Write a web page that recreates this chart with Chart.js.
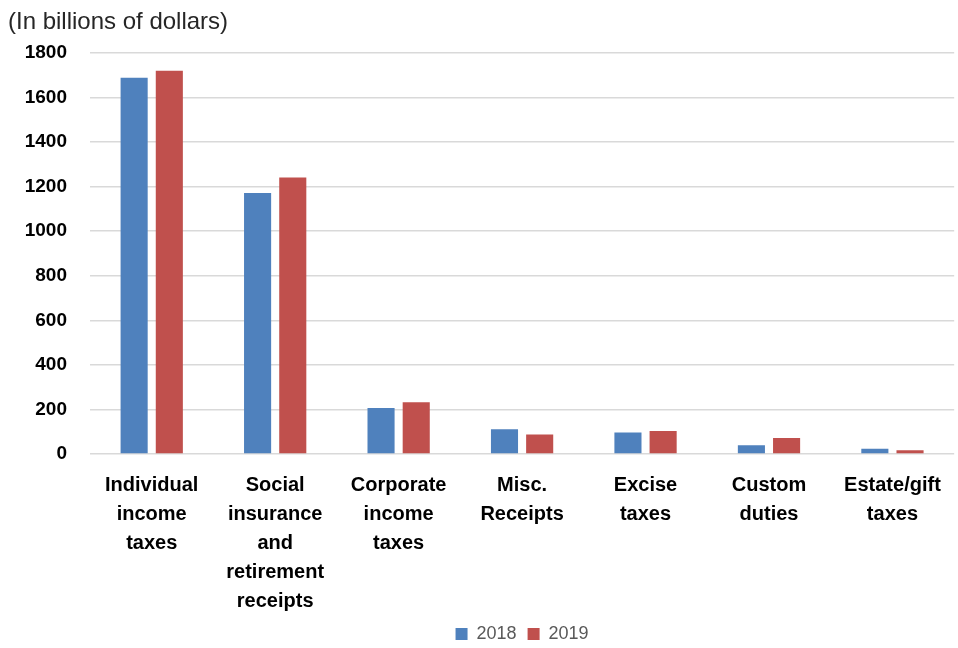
<!DOCTYPE html>
<html>
<head>
<meta charset="utf-8">
<script src="https://cdn.jsdelivr.net/npm/chart.js@4.4.0/dist/chart.umd.min.js"></script>
<style>
  html, body { margin: 0; padding: 0; background: #fff; }
  #wrap { width: 958px; height: 648px; position: relative; }
</style>
</head>
<body>
<div id="wrap"><canvas id="taxChart"></canvas></div>
<script>
const categories = [
    ['Individual', 'income', 'taxes'],
    ['Social', 'insurance', 'and', 'retirement', 'receipts'],
    ['Corporate', 'income', 'taxes'],
    ['Misc.', 'Receipts'],
    ['Excise', 'taxes'],
    ['Custom', 'duties'],
    ['Estate/gift', 'taxes']
];
const values2018 = [1688, 1171, 206, 111, 97, 39, 24];
const values2019 = [1719, 1240, 232, 88, 103, 72, 17];
const seriesNames = ['2018', '2019'];

const ctx = document.getElementById('taxChart').getContext('2d');
const taxChart = new Chart(ctx, {
    type: 'bar',
    data: {
        labels: categories,
        datasets: [{
            label: seriesNames[0],
            data: values2018,
            backgroundColor: '#4F81BD',
            borderWidth: 0
        }, {
            label: seriesNames[1],
            data: values2019,
            backgroundColor: '#C0504D',
            borderWidth: 0
        }]
    },
    options: {
        responsive: true,
        maintainAspectRatio: false,
        animation: false,
        categoryPercentage: 0.57,
        barPercentage: 0.77,
        layout: {
            padding: { left: 8, right: 3, top: 2, bottom: -5 }
        },
        scales: {
            x: {
                grid: { display: false, drawTicks: false },
                border: { display: false },
                // fixed height so the plot bottom sits where the original does
                afterFit: scale => { scale.height = 160; },
                ticks: {
                    color: '#000000',
                    font: { family: 'Liberation Sans, Arial, sans-serif', size: 20, weight: 'bold', lineHeight: 1.45 },
                    padding: 17,
                    maxRotation: 0,
                    autoSkip: false
                }
            },
            y: {
                min: 0,
                max: 1800,
                afterFit: scale => { scale.width = 82; },
                ticks: {
                    stepSize: 200,
                    color: '#000000',
                    font: { family: 'Liberation Sans, Arial, sans-serif', size: 19, weight: 'bold' },
                    padding: 23,
                    callback: value => String(value)
                },
                grid: { color: '#d9d9d9', lineWidth: 1.5, drawTicks: false },
                border: { display: false }
            }
        },
        plugins: {
            title: {
                display: true,
                text: '(In billions of dollars)',
                align: 'start',
                color: '#262626',
                font: { family: 'Liberation Sans, Arial, sans-serif', size: 24, weight: 'normal' },
                padding: { top: 6, bottom: 16 }
            },
            legend: {
                position: 'bottom',
                fullSize: false,
                labels: {
                    color: '#595959',
                    font: { family: 'Liberation Sans, Arial, sans-serif', size: 18 },
                    boxWidth: 12,
                    boxHeight: 12,
                    padding: 11
                }
            },
            tooltip: { enabled: false }
        }
    }
});
</script>
</body>
</html>
